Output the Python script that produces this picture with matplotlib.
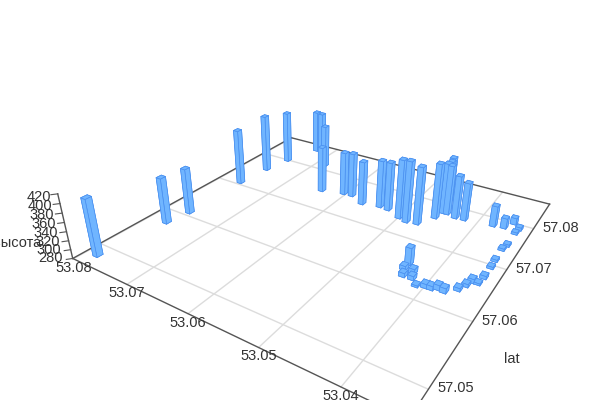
"""3D bar chart of point altitude over lon/lat."""

import numpy as np
import matplotlib
matplotlib.use("Agg")
import matplotlib.pyplot as plt
from mpl_toolkits.mplot3d import proj3d

lon = [53.07808, 53.07680, 53.07610, 53.07615, 53.07563, 53.07481, 53.07298, 53.07175, 53.06837, 53.06379,
       53.06040, 53.05903, 53.05648, 53.05379, 53.05237, 53.04996, 53.04862, 53.04708, 53.04564, 53.04525,
       53.04595, 53.04559, 53.04465, 53.04323, 53.04194, 53.03792, 53.03646, 53.03563, 53.03454, 53.03468,
       53.03464, 53.03488, 53.03480, 53.03471, 53.03471, 53.03489, 53.03564, 53.03595, 53.03645, 53.03769,
       53.03852, 53.03921, 53.03997, 53.04096, 53.04368, 53.04372, 53.04241, 53.04317, 53.04197]
lat = [57.04830, 57.05752, 57.06082, 57.07067, 57.07587, 57.07999, 57.08535, 57.08513, 57.08149, 57.07470,
       57.07555, 57.07564, 57.07446, 57.07501, 57.07487, 57.07382, 57.07341, 57.07370, 57.07621, 57.07791,
       57.08125, 57.07986, 57.07794, 57.07755, 57.07768, 57.07821, 57.07847, 57.08004, 57.07899, 57.07784,
       57.07478, 57.07366, 57.07111, 57.06958, 57.06743, 57.06608, 57.06608, 57.06509, 57.06401, 57.06293,
       57.06306, 57.06268, 57.06266, 57.06231, 57.06551, 57.06437, 57.06422, 57.06316, 57.06319]
alt = [407, 386, 386, 413, 420, 408, 387, 387, 385, 389,
       383, 385, 383, 392, 394, 417, 422, 413, 408, 398,
       386, 388, 395, 380, 368, 328, 304, 295, 287, 285,
       285, 285, 285, 285, 287, 284, 289, 287, 287, 291,
       291, 289, 289, 284, 318, 289, 291, 289, 289]

lon_ticks = [53.08, 53.07, 53.06, 53.05, 53.04]
lat_ticks = [57.08, 57.07, 57.06, 57.05]
alt_ticks = [280, 300, 320, 340, 360, 380, 400, 420]

lon_min, lon_max = 53.03288, 53.08014
lat_min, lat_max = 57.04635, 57.08717
floor = 280
bar_w = 0.0008
text_color = "#333333"

plt.rcParams["font.family"] = ["Liberation Sans", "DejaVu Sans"]
plt.rcParams["font.size"] = 10.5

fig = plt.figure(figsize=(6, 4), dpi=100)
ax = fig.add_subplot(projection="3d")
ax.set_xlim(53.085, 53.03)
ax.set_ylim(57.04, 57.09)
ax.set_zlim(280, 420)
ax.set_axis_off()
ax.view_init(elev=28.611, azim=-56.689, roll=0)
ax.set_proj_type("persp", focal_length=0.187)
ax.set_box_aspect((1, 1.0786, 0.1699))
ax.set_position([0.01769, -0.27099, 0.98859, 0.98859 * 1.5])
ax.computed_zorder = False
proj = ax.get_proj()


def label(x, y, z, s, dx, dy, ha="center"):
    # 2D text placed at a pixel offset from the projected 3D point
    px, py, _ = proj3d.proj_transform(x, y, z, proj)
    ax.annotate(s, (px, py), xytext=(dx, dy), textcoords="offset pixels", ha=ha, va="center",
                color=text_color, annotation_clip=False, zorder=5)


# floor grid
for t in lon_ticks:
    ax.plot([t, t], [lat_min, lat_max], [floor, floor], color="#dcdcdc", lw=1, zorder=1)
for t in lat_ticks:
    ax.plot([lon_min, lon_max], [t, t], [floor, floor], color="#dcdcdc", lw=1, zorder=1)

# box edges and vertical axis
edges = [
    ([lon_max, lon_max], [lat_min, lat_max], [floor, floor]),
    ([lon_max, lon_min], [lat_max, lat_max], [floor, floor]),
    ([lon_max, lon_min], [lat_min, lat_min], [floor, floor]),
    ([lon_min, lon_min], [lat_min, lat_max], [floor, floor]),
    ([lon_max, lon_max], [lat_min, lat_min], [280, 420]),
]
for xs, ys, zs in edges:
    ax.plot(xs, ys, zs, color="#555555", lw=1, zorder=2)

for z in alt_ticks:
    ax.plot([lon_max, lon_max + 0.0005], [lat_min, lat_min - 0.0005], [z, z], color="#555555", lw=0.8, zorder=2)
    frac = (z - 280) / 140
    label(lon_max, lat_min, z, str(z), -10 + 3 * frac, -3 * frac, ha="right")

for t in lon_ticks:
    label(t, lat_min, floor, f"{t:.2f}", 0, -9)
for t in lat_ticks:
    label(lon_min, t, floor, f"{t:.2f}", 27, 1)

label(lon_max, lat_min, floor, "высота", -56, 15)
label(lon_min, 57.05, floor, "lat", 83, 30)

# bars
xs = np.array(lon) - bar_w / 2
ys = np.array(lat) - bar_w / 2
heights = np.array(alt) - floor
ax.bar3d(xs, ys, np.full(len(xs), floor), bar_w, bar_w, heights,
         color="#70b5ff", edgecolor="#4a90f0", linewidth=0.5, shade=False, zorder=3)

fig.savefig("out.png", dpi=100)
